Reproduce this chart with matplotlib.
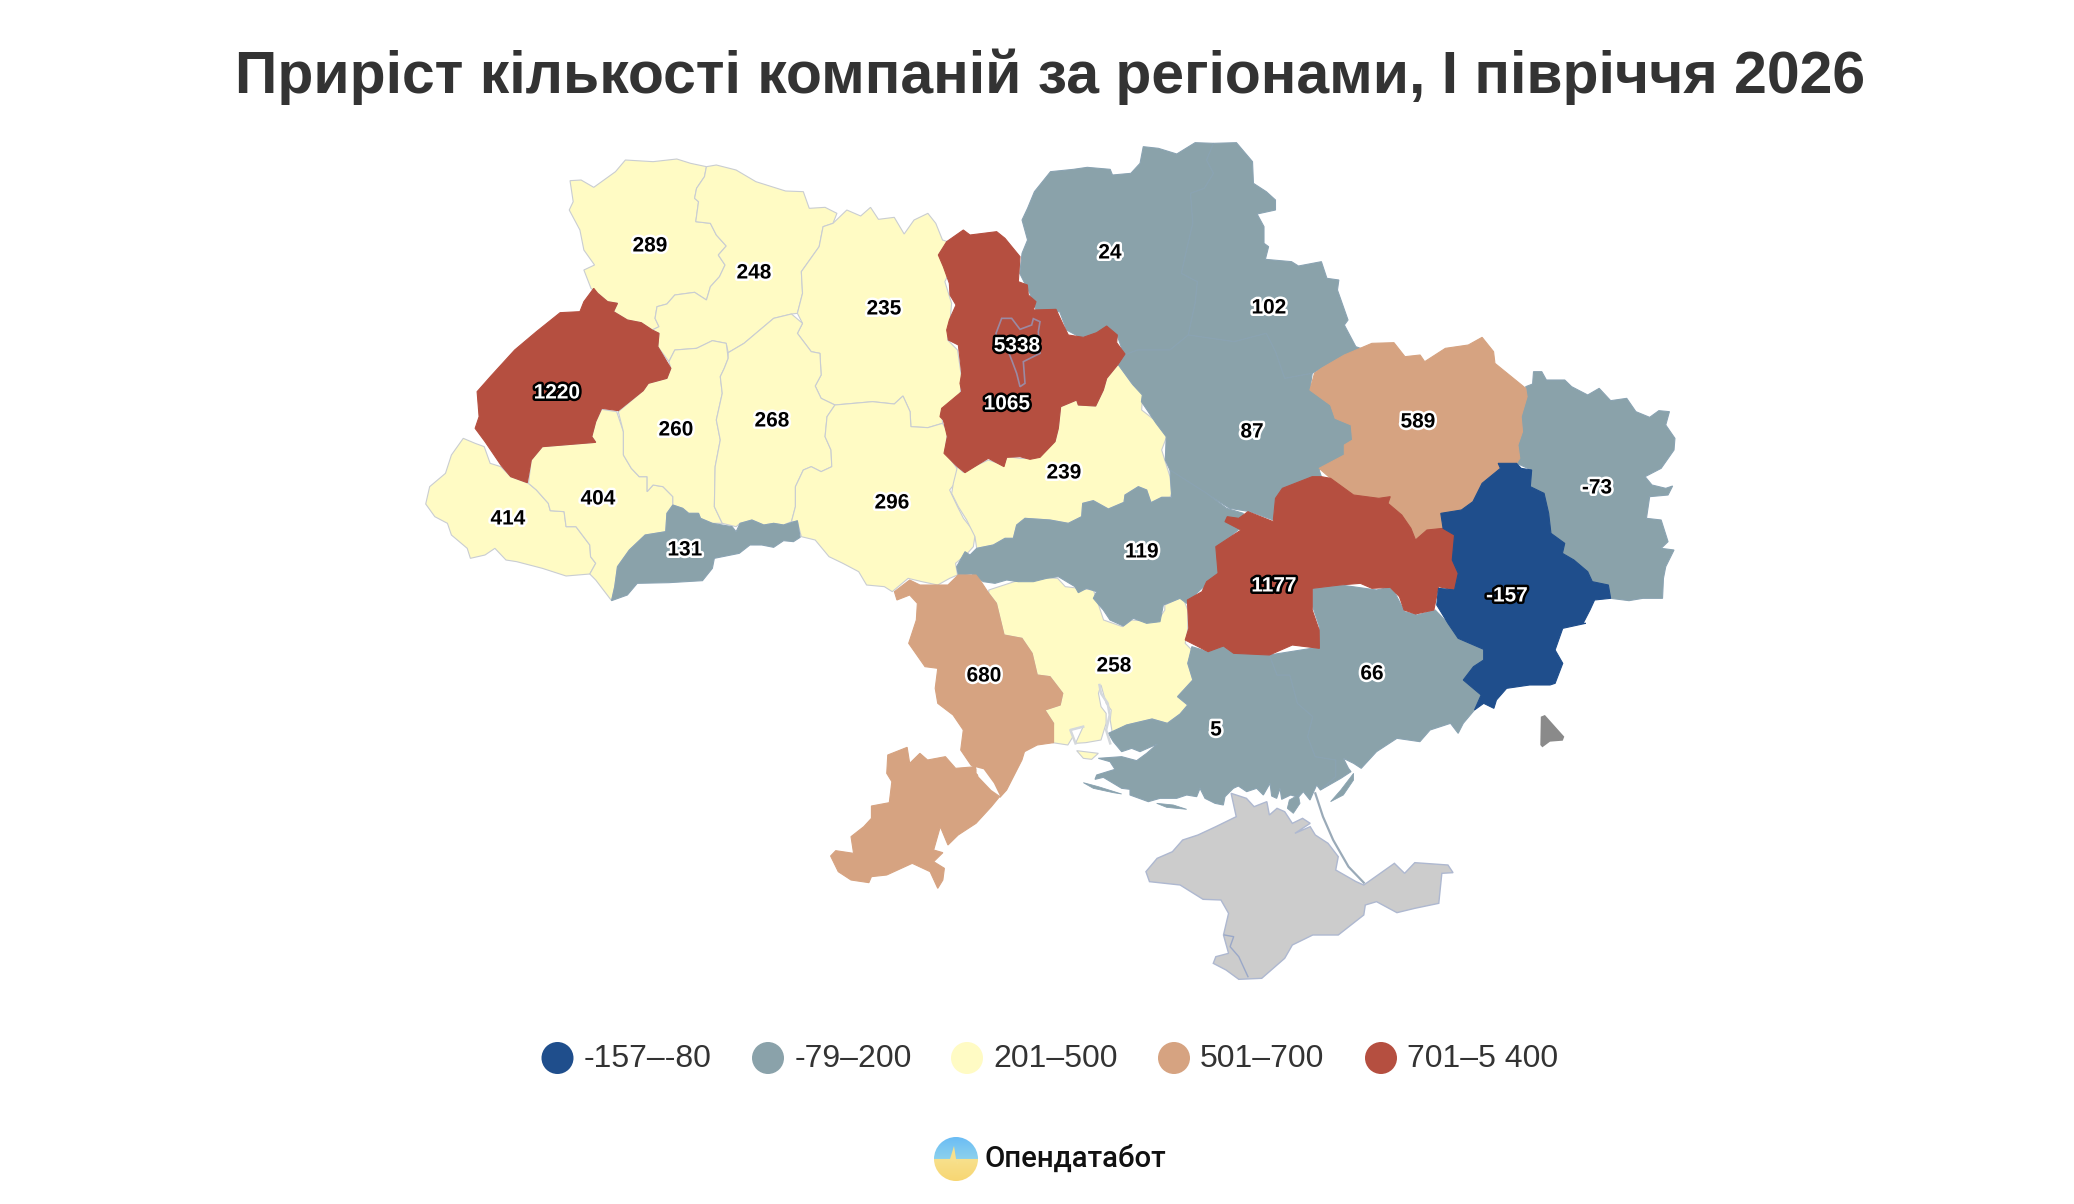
import numpy as np
import matplotlib
matplotlib.use("Agg")
from matplotlib import pyplot as plt
from matplotlib.patches import Polygon, Circle, Ellipse
import matplotlib.patheffects as pe


def crop_a(pts):
    return [(400 + x / 2.529, 130 + y / 3) for x, y in pts]


def crop_b(pts):
    return [(1000 + x / 2.178, 130 + y / 3) for x, y in pts]


def crop_c(pts):
    return [(800 + x / 1.96, 560 + y / 3) for x, y in pts]


def crop_d(pts):
    return [(930 + x / 3, 220 + y / 3) for x, y in pts]


def crop_e(pts):
    return [(950 + x / 3, 440 + y / 3) for x, y in pts]


def crop_f(pts):
    return [(1050 + x / 3, 720 + y / 3) for x, y in pts]


TITLE = "Приріст кількості компаній за регіонами, І півріччя 2026"
BRAND = "Опендатабот"

# legend classes
bin_labels = ["-157–-80", "-79–200", "201–500", "501–700", "701–5 400"]
bin_upper = [-80, 200, 500, 700, 5400]
bin_colors = ["#1f4e8c", "#8aa2aa", "#fffbc4", "#d6a381", "#b54f40"]

region_names = ["volyn", "rivne", "zhytomyr", "lviv", "zakarpattia", "ivano_frankivsk", "ternopil",
                "khmelnytskyi", "vinnytsia", "chernivtsi", "chernihiv", "sumy", "poltava", "kharkiv",
                "luhansk", "donetsk", "dnipro", "cherkasy", "kirovohrad", "mykolaiv", "odesa",
                "kherson", "zaporizhzhia", "kyiv_oblast", "kyiv_city"]
region_values = [289, 248, 235, 1220, 414, 404, 260,
                 268, 296, 131, 24, 102, 87, 589,
                 -73, -157, 1177, 239, 119, 258, 680,
                 5, 66, 1065, 5338]

# outlines, one per oblast
outlines = {
    "volyn": crop_a([(430, 152), (458, 150), (490, 172), (545, 125), (570, 90), (640, 95), (700, 87), (735, 100),
                     (775, 110), (770, 140), (750, 175), (745, 205), (755, 215), (748, 275), (785, 280), (800, 315),
                     (825, 348), (805, 375), (822, 405), (808, 440), (785, 470), (775, 510), (745, 487), (695, 495),
                     (675, 522), (650, 530), (645, 565), (655, 590), (638, 600), (610, 578), (575, 570), (540, 545),
                     (550, 520), (525, 515), (500, 490), (483, 475), (465, 420), (492, 405), (465, 360), (455, 300),
                     (428, 240), (438, 215)]),
    "rivne": crop_a([(775, 110), (800, 105), (850, 120), (900, 155), (975, 183), (1020, 185), (1035, 235), (1075, 232),
                     (1105, 250), (1095, 280), (1070, 290), (1060, 350), (1015, 425), (1018, 490), (1005, 550),
                     (990, 552), (945, 565), (910, 600), (870, 640), (830, 668), (825, 640), (790, 632), (750, 655),
                     (695, 660), (680, 695), (652, 650), (655, 610), (638, 600), (655, 590), (645, 565), (650, 530),
                     (675, 522), (695, 495), (745, 487), (775, 510), (785, 470), (808, 440), (822, 405), (805, 375),
                     (825, 348), (800, 315), (785, 280), (748, 275), (755, 215), (745, 205), (750, 175), (770, 140)]),
    "zhytomyr": crop_a([(1095, 280), (1130, 240), (1165, 258), (1190, 232), (1210, 268), (1250, 262), (1275, 312),
                        (1300, 270), (1335, 250), (1355, 280), (1372, 330), (1385, 335), (1362, 375), (1390, 425),
                        (1378, 455), (1395, 520), (1390, 590), (1385, 630), (1410, 660), (1420, 740), (1415, 820),
                        (1370, 835), (1372, 880), (1335, 893), (1292, 890), (1290, 845), (1272, 798), (1250, 822),
                        (1195, 815), (1100, 825), (1065, 805), (1050, 768), (1065, 735), (1062, 670), (1040, 665),
                        (1005, 610), (1018, 580), (1005, 550), (1018, 490), (1015, 425), (1060, 350), (1070, 290)]),
    "lviv": crop_a([(490, 475), (500, 490), (525, 515), (550, 520), (540, 545), (575, 570), (610, 578), (638, 600),
                    (655, 610), (652, 650), (685, 715), (675, 745), (628, 760), (615, 782), (552, 842), (510, 835),
                    (495, 875), (485, 920), (495, 937), (360, 950), (332, 990), (322, 1058), (280, 1040), (255, 1005),
                    (215, 935), (190, 895), (200, 860), (195, 785), (230, 738), (290, 660), (345, 605), (405, 548),
                    (455, 545), (465, 515)]),
    "zakarpattia": crop_a([(160, 925), (190, 940), (213, 950), (228, 1000), (255, 1010), (280, 1040), (325, 1060),
                           (345, 1080), (375, 1120), (380, 1142), (415, 1145), (420, 1190), (445, 1190), (480, 1245),
                           (482, 1280), (495, 1300), (480, 1332), (420, 1338), (360, 1315), (295, 1295), (268, 1290),
                           (240, 1255), (215, 1275), (178, 1285), (170, 1255), (130, 1215), (120, 1180), (88, 1160),
                           (65, 1122), (75, 1070), (115, 1030), (130, 975)]),
    "ivano_frankivsk": crop_a([(510, 838), (548, 845), (565, 905), (565, 975), (585, 1015), (605, 1040), (625, 1040),
                               (625, 1085), (640, 1065), (665, 1070), (690, 1100), (690, 1125), (675, 1150), (672, 1205),
                               (620, 1215), (580, 1260), (550, 1310), (543, 1370), (535, 1412), (495, 1350), (480, 1332),
                               (495, 1300), (482, 1280), (480, 1245), (445, 1190), (420, 1190), (415, 1145), (380, 1142),
                               (375, 1120), (345, 1080), (325, 1060), (332, 990), (360, 950), (495, 937), (485, 920),
                               (495, 875)]),
    "ternopil": crop_a([(552, 845), (615, 782), (628, 760), (675, 745), (685, 715), (680, 695), (695, 660), (750, 655),
                        (790, 632), (825, 640), (830, 685), (820, 715), (810, 740), (815, 790), (800, 870), (810, 930),
                        (797, 1010), (795, 1130), (815, 1180), (790, 1180), (760, 1165), (755, 1150), (730, 1150),
                        (715, 1135), (690, 1125), (690, 1100), (665, 1070), (640, 1065), (625, 1085), (625, 1040),
                        (605, 1040), (585, 1015), (565, 975), (565, 905)]),
    "khmelnytskyi": crop_a([(830, 668), (870, 640), (910, 600), (945, 565), (990, 552), (1018, 580), (1005, 610),
                            (1040, 665), (1062, 670), (1065, 735), (1050, 768), (1065, 805), (1100, 825), (1080, 860),
                            (1075, 920), (1090, 960), (1092, 1010), (1065, 1025), (1040, 1010), (1020, 1020),
                            (1000, 1070), (1000, 1130), (990, 1175), (970, 1185), (945, 1180), (920, 1185), (890, 1170),
                            (860, 1180), (850, 1190), (815, 1180), (795, 1130), (797, 1010), (810, 930), (800, 870),
                            (815, 790), (810, 740), (820, 715), (830, 685)]),
    "vinnytsia": crop_a([(1100, 825), (1195, 815), (1250, 822), (1272, 798), (1290, 845), (1292, 890), (1335, 893),
                         (1372, 880), (1385, 905), (1378, 965), (1415, 1025), (1410, 1050), (1390, 1080), (1410, 1130),
                         (1425, 1165), (1455, 1210), (1450, 1250), (1435, 1270), (1405, 1300), (1410, 1335), (1390, 1345),
                         (1360, 1365), (1320, 1355), (1285, 1345), (1245, 1385), (1225, 1370), (1180, 1365), (1160, 1325),
                         (1120, 1300), (1085, 1280), (1050, 1230), (1015, 1220), (1005, 1175), (990, 1175), (1000, 1130),
                         (1000, 1070), (1020, 1020), (1040, 1010), (1065, 1025), (1092, 1010), (1090, 960), (1075, 920),
                         (1080, 860)]),
    "chernivtsi": crop_a([(690, 1125), (715, 1135), (730, 1150), (755, 1150), (760, 1165), (790, 1180), (840, 1190),
                          (850, 1205), (860, 1180), (890, 1170), (920, 1185), (945, 1180), (970, 1185), (1005, 1172),
                          (1012, 1222), (995, 1235), (970, 1232), (945, 1252), (915, 1245), (885, 1245), (858, 1270),
                          (795, 1285), (790, 1315), (765, 1352), (680, 1358), (600, 1360), (575, 1395), (535, 1412),
                          (543, 1370), (550, 1310), (580, 1260), (620, 1215), (672, 1205), (675, 1150)]),
    "chernihiv": crop_b([(48, 270), (60, 235), (75, 185), (110, 125), (160, 118), (190, 112), (240, 118), (245, 135),
                         (285, 130), (305, 100), (312, 50), (345, 55), (385, 72), (425, 38), (465, 40), (450, 90),
                         (465, 130), (445, 175), (415, 190), (420, 280), (408, 350), (395, 430), (430, 455), (425, 520),
                         (410, 615), (370, 660), (300, 660), (270, 675), (255, 615), (235, 590), (215, 612), (175, 622),
                         (145, 600), (130, 545), (80, 545), (65, 490), (43, 430), (48, 370), (60, 330)]),
    "sumy": crop_b([(465, 40), (515, 38), (550, 95), (552, 160), (580, 185), (600, 210), (600, 240), (560, 252),
                    (575, 290), (575, 340), (585, 350), (578, 388), (635, 395), (650, 408), (700, 395), (712, 445),
                    (738, 450), (735, 480), (758, 570), (750, 585), (775, 650), (795, 660), (750, 675), (700, 715),
                    (680, 730), (620, 745), (600, 665), (580, 610), (510, 635), (410, 615), (425, 520), (430, 455),
                    (395, 430), (408, 350), (420, 280), (415, 190), (445, 175), (465, 130), (450, 90)]),
    "poltava": crop_b([(270, 675), (300, 660), (370, 660), (410, 615), (510, 635), (580, 610), (600, 665), (620, 745),
                       (680, 730), (675, 780), (720, 825), (730, 865), (765, 885), (768, 930), (750, 945), (750, 975),
                       (695, 1020), (700, 1040), (680, 1040), (615, 1075), (600, 1105), (595, 1170), (545, 1145),
                       (500, 1135), (370, 1020), (360, 990), (362, 920), (340, 880), (308, 815), (310, 795), (290, 765),
                       (258, 705)]),
    "kharkiv": crop_b([(810, 640), (858, 638), (882, 680), (915, 675), (925, 695), (970, 655), (1020, 645), (1050, 622),
                       (1075, 665), (1078, 700), (1145, 775), (1148, 800), (1135, 860), (1138, 905), (1128, 945),
                       (1132, 985), (1125, 1000), (1085, 1000), (1090, 1015), (1050, 1060), (1030, 1115), (1005, 1140),
                       (960, 1150), (965, 1195), (930, 1200), (905, 1230), (895, 1195), (875, 1155), (845, 1120),
                       (850, 1100), (825, 1105), (770, 1095), (720, 1045), (695, 1015), (750, 975), (750, 945),
                       (768, 930), (765, 885), (730, 865), (720, 825), (675, 780), (685, 730), (700, 715), (750, 675)]),
    "luhansk": crop_b([(1145, 770), (1160, 762), (1162, 725), (1180, 725), (1190, 750), (1230, 750), (1245, 770),
                       (1280, 795), (1305, 775), (1330, 812), (1365, 805), (1385, 845), (1415, 862), (1435, 842),
                       (1458, 845), (1450, 885), (1470, 925), (1468, 960), (1440, 1015), (1405, 1040), (1420, 1065),
                       (1450, 1075), (1465, 1068), (1455, 1095), (1415, 1100), (1408, 1165), (1440, 1170), (1455, 1235),
                       (1440, 1255), (1468, 1260), (1450, 1310), (1445, 1345), (1443, 1405), (1400, 1405), (1370, 1412),
                       (1330, 1405), (1325, 1365), (1290, 1355), (1280, 1325), (1250, 1290), (1225, 1270), (1230, 1240),
                       (1200, 1210), (1195, 1150), (1185, 1090), (1155, 1070), (1158, 1020), (1125, 1000), (1132, 985),
                       (1128, 945), (1138, 905), (1135, 860), (1148, 800)]),
    "donetsk": crop_b([(1085, 1000), (1125, 1000), (1135, 1015), (1158, 1020), (1155, 1070), (1185, 1090), (1195, 1150),
                       (1200, 1210), (1230, 1240), (1225, 1270), (1250, 1290), (1280, 1325), (1290, 1355), (1325, 1365),
                       (1330, 1405), (1295, 1410), (1285, 1440), (1270, 1480)])
    + crop_c([(1540, 190), (1495, 205), (1480, 270), (1495, 310), (1480, 370), (1470, 375), (1430, 375), (1385, 385),
              (1365, 420), (1360, 445), (1340, 430), (1322, 450), (1335, 405), (1300, 360), (1320, 320), (1340, 300),
              (1340, 268), (1290, 235), (1270, 190), (1248, 135)])
    + crop_b([(955, 1375), (990, 1380), (998, 1330), (985, 1290), (990, 1215), (965, 1195), (960, 1150), (1005, 1140),
              (1030, 1115), (1050, 1060), (1090, 1015)]),
    "dnipro": crop_b([(680, 1040), (700, 1040), (720, 1045), (770, 1095), (825, 1105), (850, 1100), (845, 1120),
                      (875, 1155), (895, 1195), (905, 1230), (930, 1200), (965, 1195), (990, 1215), (985, 1290),
                      (998, 1330), (990, 1380), (955, 1370), (945, 1440), (905, 1452), (880, 1440), (870, 1400),
                      (850, 1372), (810, 1375), (785, 1360), (740, 1365), (680, 1375), (680, 1440), (695, 1500)])
    + crop_c([(1018, 265), (965, 255), (920, 285), (850, 280), (830, 258), (800, 275), (755, 240), (762, 205)])
    + crop_b([(410, 1460), (408, 1410), (440, 1385), (450, 1355), (475, 1330), (470, 1250), (525, 1200), (490, 1175),
              (495, 1160), (520, 1165), (540, 1145), (595, 1175), (600, 1105), (615, 1075)]),
    "cherkasy": crop_d([(565, 432), (605, 490), (638, 520), (635, 570), (680, 605), (710, 650), (695, 690), (720, 770),
                        (725, 820)])
    + crop_e([(660, 172), (635, 172), (603, 188), (590, 150), (565, 140), (525, 165), (522, 187), (475, 207), (430, 182),
              (398, 190), (395, 230), (355, 250), (300, 240), (225, 235), (200, 255), (190, 295), (165, 295), (130, 315),
              (80, 325), (75, 290), (50, 240), (25, 200), (5, 160), (10, 130), (20, 90), (22, 80), (40, 97), (60, 85),
              (115, 60), (160, 75), (172, 50), (210, 55), (235, 55), (270, 48), (310, 0)])
    + crop_d([(375, 665), (385, 625), (392, 560), (440, 540), (445, 555), (497, 558), (520, 510), (530, 475)]),
    "kirovohrad": crop_e([(20, 380), (45, 335), (60, 345), (80, 325), (130, 315), (165, 295), (190, 295), (200, 255),
                          (225, 235), (300, 240), (355, 250), (395, 230), (398, 190), (430, 182), (475, 207), (522, 187),
                          (525, 165), (565, 140), (590, 150), (603, 188), (635, 172), (665, 172), (660, 90), (770, 160),
                          (830, 205), (880, 220), (870, 265), (840, 290), (800, 320), (808, 405), (780, 425), (750, 450),
                          (710, 490), (690, 475), (640, 495), (630, 545), (590, 550), (550, 535), (520, 558), (480, 540),
                          (460, 510), (430, 475), (440, 455), (410, 445), (385, 458), (375, 440), (325, 410), (290, 415),
                          (250, 425), (205, 425), (170, 420), (135, 430), (100, 425), (65, 402), (25, 405)]),
    "mykolaiv": crop_c([(370, 90), (420, 65), (475, 52), (505, 55), (520, 80), (575, 90), (582, 120), (595, 180),
                        (632, 200), (650, 180), (700, 185), (715, 150), (715, 135), (750, 110), (760, 150), (760, 210),
                        (755, 250), (768, 270), (760, 310), (770, 360), (740, 410), (760, 435), (745, 462), (720, 490),
                        (690, 477), (640, 495), (612, 518), (608, 480), (610, 450), (600, 430), (590, 375), (585, 400),
                        (590, 440), (600, 460), (600, 490), (590, 540), (560, 548), (540, 550), (555, 500), (530, 510),
                        (535, 530), (525, 555), (495, 548), (497, 490), (480, 450), (510, 435), (515, 400), (490, 350),
                        (465, 345), (455, 280), (435, 235), (400, 225), (385, 130), (370, 100)]),
    "odesa": crop_c([(185, 95), (215, 60), (235, 75), (290, 75), (310, 45), (345, 45), (355, 65), (370, 100), (385, 130),
                     (400, 225), (435, 235), (455, 280), (465, 345), (490, 350), (515, 400), (510, 435), (480, 450),
                     (497, 490), (497, 548), (465, 555), (440, 575), (435, 600), (415, 660), (405, 690), (392, 712),
                     (370, 675), (345, 625), (335, 615), (315, 570), (320, 510), (300, 465), (270, 430), (265, 385),
                     (270, 325), (245, 320), (213, 250), (228, 180), (230, 130), (215, 105), (190, 120)]),
    "kherson": crop_c([(768, 260), (800, 275), (830, 258), (850, 280), (920, 285), (935, 345), (960, 345), (975, 430),
                       (1005, 470), (995, 530), (1010, 590), (1050, 600), (1050, 650), (1020, 690)])
    + crop_f([(800, 195), (780, 240), (760, 215), (745, 232), (722, 225), (695, 238), (690, 205), (680, 235), (665, 228),
              (660, 190), (640, 225), (620, 205), (590, 215), (565, 198), (550, 205), (525, 230), (520, 255), (495, 250),
              (465, 235), (450, 205), (440, 230), (410, 225), (380, 235), (330, 235), (295, 245), (240, 225), (240, 208),
              (215, 205), (160, 172), (135, 178), (140, 165), (195, 148), (180, 125), (145, 115), (215, 110), (260, 122),
              (290, 100), (322, 72), (270, 95), (245, 85), (215, 95), (190, 65), (175, 40)])
    + crop_c([(640, 495), (690, 477), (720, 490), (745, 462), (760, 435), (740, 410), (770, 360), (760, 310)]),
    "zaporizhzhia": crop_c([(1005, 85), (1060, 75), (1130, 90), (1160, 80), (1185, 155), (1210, 165), (1245, 150),
                            (1270, 190), (1290, 235), (1340, 268), (1340, 300), (1320, 320), (1300, 360), (1335, 405),
                            (1322, 450), (1300, 490), (1290, 520), (1275, 490), (1235, 510), (1215, 545), (1170, 535),
                            (1130, 575), (1100, 625), (1085, 610), (1065, 595), (1075, 625), (1080, 635), (1060, 655),
                            (1020, 690), (1050, 650), (1050, 600), (1010, 590), (995, 530), (1005, 470), (975, 430),
                            (960, 345), (935, 345), (920, 285), (1015, 262), (1018, 200), (1005, 140)]),
    "kyiv_oblast": crop_d([(50, 65), (100, 30), (120, 45), (200, 35), (225, 55), (270, 110), (265, 185), (292, 195),
                           (295, 225), (318, 245), (310, 270), (378, 268), (400, 315), (415, 345), (460, 352), (500, 338),
                           (530, 318), (562, 345), (560, 368), (585, 402), (565, 432), (530, 475), (520, 510), (497, 558),
                           (445, 555), (440, 540), (392, 560), (385, 625), (375, 665), (330, 712), (300, 718), (270, 710),
                           (230, 712), (222, 740), (175, 715), (150, 730), (105, 758), (80, 738), (42, 700), (52, 650),
                           (40, 600), (30, 590), (35, 565), (95, 515), (90, 490), (95, 460), (85, 375), (55, 360),
                           (50, 330), (58, 300), (78, 255), (60, 225), (58, 190), (40, 140), (25, 105)]),
    "kyiv_city": crop_d([(215, 295), (245, 295), (270, 328), (305, 315), (310, 296), (330, 305), (325, 335), (330, 400),
                         (280, 425), (285, 490), (270, 500), (260, 460), (245, 420), (235, 395), (205, 385), (198, 340)]),
}

odesa_south = crop_c([(210, 562), (215, 610), (235, 580), (250, 600), (285, 590), (305, 625), (345, 620), (345, 640),
                      (390, 712), (375, 740), (345, 790), (310, 825), (290, 855), (275, 800), (262, 870), (280, 878),
                      (262, 905), (283, 925), (280, 960), (270, 985), (255, 935), (220, 910), (170, 945), (140, 950),
                      (135, 968), (100, 960), (75, 935), (60, 888), (70, 872), (105, 880), (100, 830), (125, 800),
                      (140, 775), (140, 738), (175, 728), (180, 665), (170, 640), (172, 585)])
dniester_liman = crop_c([(345, 622), (360, 628), (380, 670), (392, 708), (375, 690), (350, 650)])
kherson_bits = [crop_f([(100, 188), (145, 200), (215, 222), (190, 218), (130, 205)]),
                crop_f([(320, 250), (370, 255), (410, 268), (350, 262)]),
                crop_f([(745, 225), (750, 250), (730, 280), (712, 265), (718, 240)]),
                crop_c([(1085, 640), (1060, 690), (1040, 725), (1065, 705), (1085, 660)])]
kinburn = crop_f([(80, 92), (145, 100), (125, 118), (100, 115)])
crimea = crop_c([(845, 700), (875, 715), (890, 740), (915, 725), (920, 765), (935, 745), (950, 755), (965, 790), (985, 775),
                 (1000, 790), (970, 820), (1000, 800), (1010, 825), (1035, 850), (1055, 890), (1050, 930), (1090, 965),
                 (1105, 975), (1165, 910), (1185, 940), (1205, 908), (1270, 915), (1280, 938), (1258, 940), (1252, 1030),
                 (1205, 1045), (1170, 1058), (1130, 1025), (1108, 1035), (1105, 1065), (1055, 1125), (1005, 1125),
                 (965, 1155), (950, 1195), (905, 1255), (860, 1258), (835, 1230), (810, 1210), (815, 1190), (840, 1180),
                 (830, 1125), (840, 1060), (825, 1020), (790, 1018), (745, 975), (685, 965), (678, 935), (700, 895),
                 (730, 875), (750, 840), (780, 825), (815, 800), (855, 770)])
sevastopol_line = crop_c([(832, 1125), (850, 1130), (843, 1160), (860, 1190), (878, 1250)])
arabat_spit = crop_c([(1010, 700), (1025, 770), (1045, 840), (1075, 920), (1105, 968)])
buh_liman = crop_c([(587, 375), (590, 400), (603, 430), (607, 465), (600, 510), (608, 550)])
dnipro_liman = crop_c([(540, 550), (530, 510), (555, 500)])
pointer = crop_c([(1452, 470), (1460, 465), (1498, 530), (1495, 542), (1470, 545), (1455, 562), (1451, 555)])

label_xy = {
    "volyn": (650, 246), "rivne": (754, 273), "zhytomyr": (884, 309), "lviv": (557, 393), "ternopil": (676, 430),
    "khmelnytskyi": (772, 421), "vinnytsia": (892, 503), "ivano_frankivsk": (598, 499), "zakarpattia": (508, 519),
    "chernivtsi": (685, 550), "kyiv_city": (1017, 346), "kyiv_oblast": (1007, 404), "chernihiv": (1110, 253),
    "sumy": (1269, 308), "poltava": (1252, 432), "kharkiv": (1418, 422), "luhansk": (1597, 488), "donetsk": (1507, 596),
    "dnipro": (1274, 586), "cherkasy": (1064, 473), "kirovohrad": (1142, 552), "odesa": (984, 676),
    "mykolaiv": (1114, 666), "kherson": (1216, 730), "zaporizhzhia": (1372, 674),
}

legend_dot_x = [557.5, 768, 967, 1174, 1381]
legend_text_x = [584, 795, 993, 1200, 1407]
edge_by_bin = ["#1f4e8c", "#8aa3b2", "#c9cdd2", "#d6a381", "#b54f40"]
FONT = "Liberation Sans"


def bin_of(value):
    return int(np.searchsorted(bin_upper, value))


def draw_logo(ax, cx, cy):
    rx, ry = 22, 22
    grad = np.zeros((60, 2, 3))
    top = np.array([0.42, 0.74, 0.96])
    mid = np.array([0.55, 0.82, 0.93])
    low = np.array([0.97, 0.88, 0.55])
    bot = np.array([0.97, 0.84, 0.45])
    for i in range(60):
        t = i / 59
        grad[i, :] = top + (mid - top) * t * 2 if t < 0.5 else low + (bot - low) * (t - 0.5) * 2
    im = ax.imshow(grad, extent=(cx - rx, cx + rx, cy + ry, cy - ry), zorder=6, aspect="auto")
    im.set_clip_path(Ellipse((cx, cy), 2 * rx, 2 * ry, transform=ax.transData))
    spike = [(cx - 15, cy), (cx - 6, cy), (cx - 2, cy - 13), (cx + 1, cy + 6), (cx + 4, cy), (cx + 15, cy), (cx, cy + 3)]
    ax.add_patch(Polygon(spike, closed=True, facecolor="#f7e08c", edgecolor="none", zorder=7))


def main():
    fig = plt.figure(figsize=(20.74, 12.04), dpi=100, facecolor="white")
    ax = fig.add_axes([0, 0, 1, 1])
    ax.set_xlim(0, 2074)
    ax.set_ylim(1204, 0)
    ax.axis("off")

    ax.text(1050, 77, TITLE, ha="center", va="center", fontsize=42.4, fontweight="bold", color="#333333", family=FONT)

    ax.add_patch(Polygon(crimea, closed=True, facecolor="#cccccc", edgecolor="#aeb8d0", lw=1, zorder=1))
    ax.plot(*zip(*sevastopol_line), color="#9aa8c8", lw=1, zorder=1.1)
    ax.plot(*zip(*arabat_spit), color="#9aaab8", lw=1.6, zorder=1.1)

    # paint order: light classes under the dark ones so shared edges stay tidy
    layer = {2: 1.5, 1: 2, 3: 3, 4: 4, 0: 5}
    for name, value in zip(region_names, region_values):
        b = bin_of(value)
        edge = edge_by_bin[b]
        zorder = layer[b]
        lw = 0.8
        if name == "kyiv_city":
            edge, zorder, lw = "#9b8aa3", 4.5, 1.2
        ax.add_patch(Polygon(outlines[name], closed=True, facecolor=bin_colors[b], edgecolor=edge, lw=lw, zorder=zorder))

    ax.add_patch(Polygon(odesa_south, closed=True, facecolor=bin_colors[3], edgecolor=edge_by_bin[3], lw=0.8, zorder=3))
    ax.add_patch(Polygon(dniester_liman, closed=True, facecolor="white", edgecolor="none", zorder=3.1))
    for bit in kherson_bits:
        ax.add_patch(Polygon(bit, closed=True, facecolor=bin_colors[1], edgecolor="#8aa3b2", lw=0.6, zorder=2))
    ax.add_patch(Polygon(kinburn, closed=True, facecolor=bin_colors[2], edgecolor=edge_by_bin[2], lw=0.8, zorder=2))
    ax.plot(*zip(*buh_liman), color="#d4d8dc", lw=1.8, zorder=2.5)
    ax.plot(*zip(*dnipro_liman), color="#d4d8dc", lw=1.8, zorder=2.5)
    ax.add_patch(Polygon(pointer, closed=True, facecolor="#8a8a8a", edgecolor="none", zorder=2))

    for name, value in zip(region_names, region_values):
        b = bin_of(value)
        dark = b in (0, 4)
        x, y = label_xy[name]
        ax.text(x, y, str(value), ha="center", va="center", fontsize=15, fontweight="bold", family=FONT,
                color="white" if dark else "black", zorder=10,
                path_effects=[pe.withStroke(linewidth=3.6, foreground="black" if dark else "white")])

    for x_dot, x_text, label, color in zip(legend_dot_x, legend_text_x, bin_labels, bin_colors):
        ax.add_patch(Circle((x_dot, 1058), 16, facecolor=color, edgecolor="none", zorder=6))
        ax.text(x_text, 1059, label, ha="left", va="center", fontsize=23, color="#333333", family=FONT)

    draw_logo(ax, 956, 1159)
    ax.text(985, 1159, BRAND, ha="left", va="center", fontsize=21.2, fontweight="medium", color="#111111", family="Roboto")

    ax.set_xlim(0, 2074)
    ax.set_ylim(1204, 0)
    fig.savefig("out.png", dpi=100, facecolor="white")
    plt.close(fig)


if __name__ == "__main__":
    main()
